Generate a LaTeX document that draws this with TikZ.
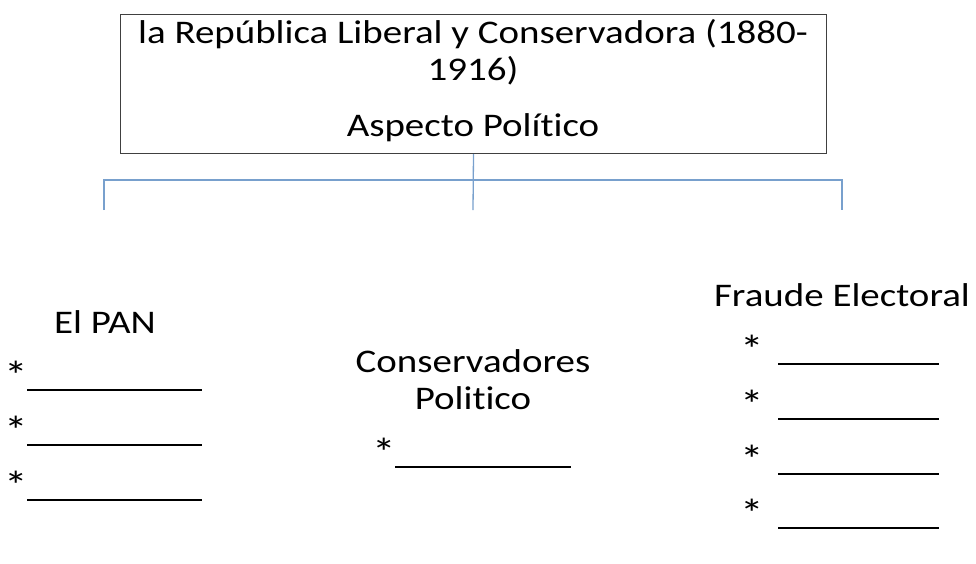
\documentclass[tikz,border=0pt]{standalone}
\usepackage{fontspec}
\setmainfont{Carlito}[FakeStretch=1.18,Ligatures=NoCommon]
\begin{document}
\begin{tikzpicture}[x=1pt,y=-1pt,
  lbl/.style={inner sep=0pt,font=\fontsize{33}{37}\selectfont,align=center},
  star/.style={inner sep=0pt,font=\fontsize{40}{40}\selectfont},
  blank/.style={line width=1.8pt,black},
  conn/.style={line width=1.3pt,draw={rgb,255:red,120;green,160;blue,205}}]
\useasboundingbox (0,0) rectangle (976,563);
\node[draw=black!75,line width=1pt,minimum width=706pt,minimum height=139pt,inner sep=0pt,anchor=north west] (title) at (120,14) {};
\node[lbl] (t1) at (473,34) {la República Liberal y Conservadora (1880-};
\node[lbl] (t2) at (473,71) {1916)};
\node[lbl] (t3) at (473,128) {Aspecto Político};
\coordinate (bl) at (104,210);
\coordinate (bm) at (473,210);
\coordinate (br) at (842,210);
\draw[conn] (title.south) -- (bm);
\draw[conn] (bl) -- (104,180) -- (842,180) -- (br);
\node[lbl] (pan) at (105,322) {El PAN};
\node[lbl] (cons) at (473,380) {Conservadores\\Politico};
\node[lbl] (fraude) at (842,295) {Fraude Electoral};
\foreach \i/\y in {1/390,2/445,3/500}{
  \node[star] (ps\i) at (16,\y-15) {*};
  \coordinate (pa\i) at (27,\y); \coordinate (pb\i) at (202,\y);
  \draw[blank] (pa\i) -- (pb\i);
}
\node[star] (cs1) at (384,452) {*};
\coordinate (ca1) at (395,467); \coordinate (cb1) at (571,467);
\draw[blank] (ca1) -- (cb1);
\foreach \i/\y in {1/364,2/419,3/474,4/528}{
  \node[star] (fs\i) at (752,\y-15) {*};
  \coordinate (fa\i) at (778,\y); \coordinate (fb\i) at (939,\y);
  \draw[blank] (fa\i) -- (fb\i);
}
\end{tikzpicture}
\end{document}
